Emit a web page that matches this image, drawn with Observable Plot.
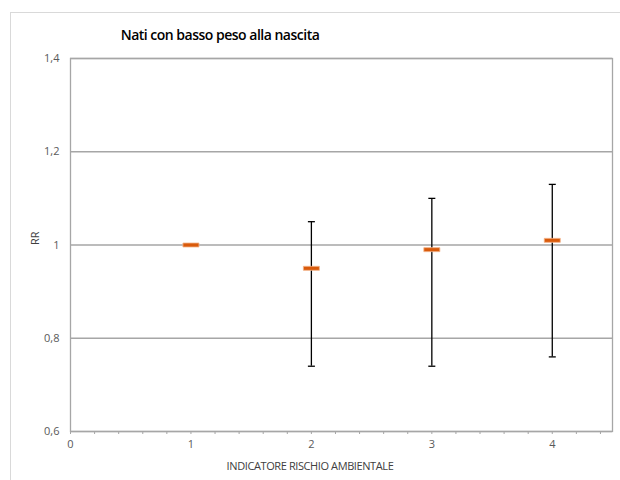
<!DOCTYPE html>
<html>
<head>
<meta charset="utf-8">
<script src="https://cdn.jsdelivr.net/npm/d3@7"></script>
<script src="https://cdn.jsdelivr.net/npm/@observablehq/plot@0.6"></script>
<style>
  html, body { margin: 0; padding: 0; background: #fff; }
  #wrap { position: relative; width: 620px; height: 480px; overflow: hidden; font-family: "Open Sans", "DejaVu Sans", sans-serif; }
  #border { position: absolute; left: 10px; top: 12px; width: 640px; height: 500px; border-left: 1px solid #d9d9d9; border-top: 1px solid #d9d9d9; }
  #title { position: absolute; left: 0; top: 25px; width: 440px; text-align: center; font-size: 14px; font-weight: 600; color: #000; letter-spacing: -0.5px; }
  #xlabel { position: absolute; left: 0; top: 458px; width: 620px; text-align: center; font-size: 11px; color: #404040; letter-spacing: -0.4px; }
  #chart { position: absolute; left: 0; top: 0; }
</style>
</head>
<body>
<div id="wrap">
  <div id="border"></div>
  <div id="chart"></div>
  <div id="title">Nati con basso peso alla nascita</div>
  <div id="xlabel">INDICATORE RISCHIO AMBIENTALE</div>
</div>
<script>
const indicator = [1, 2, 3, 4];
const rr = [1.00, 0.95, 0.99, 1.01];
const lower = [null, 0.74, 0.74, 0.76];
const upper = [null, 1.05, 1.10, 1.13];
const yTicks = [0.6, 0.8, 1.0, 1.2, 1.4];
const xTicks = [0, 1, 2, 3, 4];
const xMinorTicks = [0, 0.2, 0.4, 0.6, 0.8, 1, 1.2, 1.4, 1.6, 1.8, 2, 2.2, 2.4, 2.6, 2.8, 3, 3.2, 3.4, 3.6, 3.8, 4, 4.2, 4.4];

const data = indicator.map((x, i) => ({x, rr: rr[i], lo: lower[i], hi: upper[i]}));
const bars = data.filter(d => d.lo != null);

const capSymbol = { draw(ctx) { ctx.moveTo(-3.5, 0); ctx.lineTo(3.5, 0); } };
const markSymbol = { draw(ctx) { ctx.moveTo(-8, -2); ctx.lineTo(8, -2); ctx.lineTo(8, 2); ctx.lineTo(-8, 2); ctx.closePath(); } };

const fmt = v => (Number.isInteger(v) ? String(v) : String(v).replace(".", ","));

const plot = Plot.plot({
  width: 620,
  height: 480,
  marginTop: 58,
  marginBottom: 49,
  marginLeft: 70,
  marginRight: 8,
  style: { fontFamily: "'Open Sans', 'DejaVu Sans', sans-serif", fontSize: "11px", color: "#595959", background: "transparent" },
  x: { domain: [0, 4.5] },
  y: { domain: [0.6, 1.4] },
  marks: [
    Plot.gridY(yTicks, { stroke: "#a6a6a6", strokeOpacity: 1, strokeWidth: 1.3 }),
    Plot.frame({ stroke: "#a6a6a6", strokeWidth: 1.3 }),
    Plot.axisY(yTicks, { tickSize: 0, tickPadding: 11, tickFormat: fmt, label: null, fill: "#595959" }),
    Plot.axisX(xMinorTicks, { tickSize: 3, tickFormat: () => "", label: null, stroke: "#a6a6a6" }),
    Plot.axisX(xTicks, { tickSize: 0, tickPadding: 9, tickFormat: d => String(d), label: null, fill: "#595959" }),
    Plot.text(["RR"], { frameAnchor: "left", dx: -35, rotate: -90, fill: "#404040", fontSize: 11 }),
    Plot.ruleX(bars, { x: "x", y1: "lo", y2: "hi", stroke: "#000", strokeWidth: 1.3 }),
    Plot.dot(bars, { x: "x", y: "lo", symbol: capSymbol, stroke: "#000", strokeWidth: 1.3, r: 3 }),
    Plot.dot(bars, { x: "x", y: "hi", symbol: capSymbol, stroke: "#000", strokeWidth: 1.3, r: 3 }),
    Plot.dot(data, { x: "x", y: "rr", symbol: markSymbol, fill: "#d95a0b", stroke: "#f2b48a", strokeWidth: 0.8, r: 4 })
  ]
});
document.getElementById("chart").appendChild(plot);
</script>
</body>
</html>
